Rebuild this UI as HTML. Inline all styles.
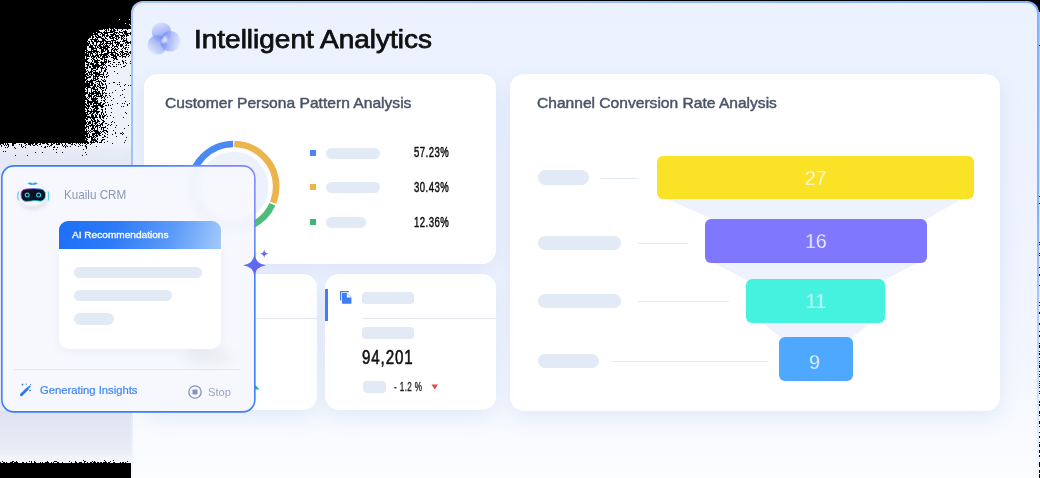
<!DOCTYPE html>
<html><head><meta charset="utf-8">
<style>
*{margin:0;padding:0;box-sizing:border-box}
html,body{width:1040px;height:478px;overflow:hidden;background:#000}
body{position:relative;font-family:"Liberation Sans",sans-serif}
.abs{position:absolute}
.sh1{left:84px;top:28.5px;width:48px;height:116px;border-top-left-radius:20px;background:linear-gradient(90deg,#626670 0%,#6a6e78 35%,#8a8e98 70%,#b9bdc8 100%)}
.sh1b{left:103px;top:60px;width:29px;height:84px;border-top-left-radius:16px;background:linear-gradient(90deg,#c4c8d2 0%,#dfe3ec 40%,#e6e9f2 100%)}
.sh2{left:0;top:143px;width:132px;height:270px;background:#e6e9f5}
.sh3{left:0;top:410px;width:132px;height:53px;background:linear-gradient(180deg,#dfe3f0 0%,#e3e7f2 75%,#f4f7fb 100%)}
.panelb{left:131px;top:1px;width:908px;height:477px;border-radius:12px 12px 0 0;background:linear-gradient(180deg,rgba(246,249,254,0) 0%,rgba(246,249,254,0) 45%,rgba(246,249,254,.45) 72%,#f6f9fe 100%),linear-gradient(90deg,#a6c4f8 0%,#9cbdf8 50%,#88b2f7 100%)}
.panel{left:133px;top:3px;width:904px;height:475px;border-radius:10px 10px 0 0;
  background:linear-gradient(180deg,#ebf2fe 0%,#eef3fe 50%,#f2f6fe 75%,#f8fafe 90%,#fcfdff 100%)}
.card{background:#fff;border-radius:14px;box-shadow:0 7px 20px rgba(95,140,210,.13)}
.t{white-space:nowrap;transform-origin:0 0;line-height:1}
.pill{position:absolute;background:#e2eaf5;border-radius:8px}
.hl{position:absolute;height:1px;background:#e5ebf4}
.bar{position:absolute;border-radius:6px;color:#fff;font-size:18px;display:flex;align-items:center;justify-content:center}
</style></head><body>
<svg class="abs" style="left:0;top:0" width="132" height="478" viewBox="0 0 132 478">
<defs>
<filter id="dith" x="0" y="0" width="132" height="478" filterUnits="userSpaceOnUse" color-interpolation-filters="sRGB">
<feTurbulence type="turbulence" baseFrequency="0.9" numOctaves="2" seed="7" result="n"/>
<feColorMatrix in="n" type="matrix" values="0 0 0 0 0  0 0 0 0 0  0 0 0 0 0  1.2 0 0 0 0" result="na"/>
<feComposite in="SourceAlpha" in2="na" operator="arithmetic" k1="0" k2="1" k3="-1" k4="0.5" result="d"/>
<feComponentTransfer in="d" result="t"><feFuncA type="discrete" tableValues="0 1"/></feComponentTransfer>
<feColorMatrix in="SourceGraphic" type="matrix" values="1 0 0 0 0  0 1 0 0 0  0 0 1 0 0  0 0 0 0 1" result="op"/>
<feComposite in="op" in2="t" operator="in"/>
</filter>
<filter id="sb" x="-50%" y="-50%" width="200%" height="200%"><feGaussianBlur stdDeviation="5"/></filter>
<linearGradient id="bandg" x1="0" y1="0" x2="0" y2="1"><stop offset="0" stop-color="#eef1f9" stop-opacity=".3"/><stop offset="0.25" stop-color="#e8ebf6" stop-opacity=".6"/><stop offset="1" stop-color="#e4e7f3" stop-opacity="1"/></linearGradient>
<linearGradient id="botg" x1="0" y1="0" x2="0" y2="1"><stop offset="0" stop-color="#dfe3f0" stop-opacity="1"/><stop offset="0.75" stop-color="#e9ecf5" stop-opacity="1"/><stop offset="0.9" stop-color="#f2f4fa" stop-opacity=".9"/><stop offset="1" stop-color="#f2f4fa" stop-opacity=".3"/></linearGradient>
</defs>
<g filter="url(#dith)">
<rect x="85" y="28.8" width="80" height="130" rx="22" fill="#eef1f9" fill-opacity=".23"/>
<g filter="url(#sb)" opacity="1">
<rect x="106" y="62" width="40" height="100" rx="12" fill="#eef1f9" fill-opacity=".5"/>
<rect x="118" y="26" width="30" height="60" rx="6" fill="#eef1f9" fill-opacity=".1"/>
</g>
<rect x="0" y="143" width="132" height="24" fill="url(#bandg)"/>
<rect x="0" y="160" width="132" height="252" fill="#e6e9f5"/>
<rect x="0" y="411" width="132" height="52" fill="url(#botg)"/>
</g>
</svg>
<div class="abs panelb"></div>
<svg class="abs" style="left:1039px;top:0" width="1" height="478" viewBox="0 0 1 478">
<defs>
<filter id="dith2" x="0" y="0" width="1" height="478" filterUnits="userSpaceOnUse" color-interpolation-filters="sRGB">
<feTurbulence type="turbulence" baseFrequency="0.9" numOctaves="2" seed="11" result="n"/>
<feColorMatrix in="n" type="matrix" values="0 0 0 0 0  0 0 0 0 0  0 0 0 0 0  1.2 0 0 0 0" result="na"/>
<feComposite in="SourceAlpha" in2="na" operator="arithmetic" k1="0" k2="1" k3="-1" k4="0.5" result="d"/>
<feComponentTransfer in="d" result="t"><feFuncA type="discrete" tableValues="0 1"/></feComponentTransfer>
<feColorMatrix in="SourceGraphic" type="matrix" values="1 0 0 0 0  0 1 0 0 0  0 0 1 0 0  0 0 0 0 1" result="op"/>
<feComposite in="op" in2="t" operator="in"/>
</filter>
<linearGradient id="colg" x1="0" y1="0" x2="0" y2="1"><stop offset="0" stop-color="#a9c8f8" stop-opacity=".75"/><stop offset=".45" stop-color="#dfe9fb" stop-opacity=".55"/><stop offset="1" stop-color="#f4f7fd" stop-opacity=".2"/></linearGradient>
</defs>
<rect x="0" y="12" width="1" height="466" fill="url(#colg)" filter="url(#dith2)"/>
</svg>

<div class="abs panel"></div>

<!-- logo -->
<svg class="abs" style="left:145px;top:20px" width="40" height="40" viewBox="0 0 40 40">
<defs>
<linearGradient id="lg1" x1="0.2" y1="0" x2="0.6" y2="1"><stop offset="0" stop-color="#dfe5fc"/><stop offset="1" stop-color="#7088f1"/></linearGradient>
<linearGradient id="lg2" x1="0.9" y1="0.1" x2="0.2" y2="0.9"><stop offset="0" stop-color="#6d85f0"/><stop offset="1" stop-color="#dfe6fc"/></linearGradient>
<linearGradient id="lg3" x1="0" y1="0.4" x2="1" y2="0.6"><stop offset="0" stop-color="#6881f0"/><stop offset="1" stop-color="#e3e9fd"/></linearGradient>
<filter id="lbl"><feGaussianBlur stdDeviation="0.7"/></filter><filter id="lbl2" x="-50%" y="-50%" width="200%" height="200%"><feGaussianBlur stdDeviation="0.9"/></filter>
</defs>
<g filter="url(#lbl)">
<circle cx="16.5" cy="12" r="9.8" fill="url(#lg1)" opacity=".85"/>
<circle cx="12.3" cy="25" r="9.8" fill="url(#lg2)" opacity=".85"/>
<circle cx="25.4" cy="21.2" r="10.2" fill="url(#lg3)" opacity=".85"/>
</g>
<path d="M20.3 15.6 Q17.6 18 15.6 22.8 Q19.5 22.6 22.6 21.4 Q22.3 17.6 20.3 15.6Z" fill="#e2e8fc" filter="url(#lbl2)"/>
</svg>
<div id="title" class="abs t" style="left:194px;top:28px;font-size:24.85px;color:#111;-webkit-text-stroke:.75px #111;transform:scaleX(1.126)">Intelligent Analytics</div>

<!-- persona card -->
<div class="abs card" style="left:144px;top:74px;width:352px;height:190px"></div>
<div id="h1" class="abs t" style="left:165px;top:96px;font-size:14.8px;color:#4a5366;-webkit-text-stroke:.45px #4a5366;transform:scaleX(1.055)">Customer Persona Pattern Analysis</div>
<svg class="abs" style="left:183px;top:137px" width="100" height="100" viewBox="0 0 100 100">
<circle cx="50.5" cy="49.7" r="35" fill="#ecf1fb"/>
<g fill="none" stroke-width="6.6" transform="rotate(-90 50.5 49.7)">
<circle cx="50.5" cy="49.7" r="42.7" stroke="#ecb44c" stroke-dasharray="82.5 1000" stroke-dashoffset="-0.85"/>
<circle cx="50.5" cy="49.7" r="42.7" stroke="#4fbc7d" stroke-dasharray="31.5 1000" stroke-dashoffset="-85.05"/>
<circle cx="50.5" cy="49.7" r="42.7" stroke="#4a8af4" stroke-dasharray="149.2 1000" stroke-dashoffset="-118.25"/>
</g>
</svg>
<div class="abs" style="left:310px;top:150px;width:6px;height:6px;background:#4a85f0"></div>
<div class="abs" style="left:310px;top:184px;width:6px;height:6px;background:#ecb547"></div>
<div class="abs" style="left:310px;top:219px;width:6px;height:6px;background:#3db574"></div>
<div class="pill" style="left:326px;top:148px;width:54px;height:11px"></div>
<div class="pill" style="left:326px;top:182px;width:54px;height:11px"></div>
<div class="pill" style="left:326px;top:217px;width:40px;height:11px"></div>
<div id="p1" class="abs t" style="left:414px;top:145px;font-size:14.7px;color:#111;-webkit-text-stroke:.5px #111;letter-spacing:.7px;transform:scaleX(.65)">57.23%</div>
<div id="p2" class="abs t" style="left:414px;top:180px;font-size:14.7px;color:#111;-webkit-text-stroke:.5px #111;letter-spacing:.7px;transform:scaleX(.65)">30.43%</div>
<div id="p3" class="abs t" style="left:414px;top:215px;font-size:14.7px;color:#111;-webkit-text-stroke:.5px #111;letter-spacing:.7px;transform:scaleX(.65)">12.36%</div>

<!-- channel card -->
<div class="abs card" style="left:510px;top:74px;width:490px;height:337px"></div>
<div id="h2" class="abs t" style="left:536.5px;top:96px;font-size:14.8px;color:#4a5366;-webkit-text-stroke:.45px #4a5366;transform:scaleX(1.053)">Channel Conversion Rate Analysis</div>
<svg class="abs" style="left:510px;top:74px" width="490" height="337" viewBox="510 74 490 337">
<polygon points="667,199 962,199 925,220 714,220" fill="#eef2fc"/>
<polygon points="714,263 917,263 884,280 746,280" fill="#eef2fc"/>
<polygon points="762,322 872,322 849,340 783,340" fill="#eef2fc"/>
</svg>
<div class="bar" style="left:657px;top:156px;width:317px;height:43.4px;background:#fae227"></div><div id="n1" class="abs t" style="left:805px;top:169px;font-size:19.5px;color:#fff;-webkit-text-stroke:.35px #fae227">27</div>
<div class="bar" style="left:704.5px;top:219px;width:222.5px;height:44px;background:#7f78fe"></div><div id="n2" class="abs t" style="left:805px;top:232px;font-size:19.5px;color:#fff;-webkit-text-stroke:.35px #7f78fe">16</div>
<div class="bar" style="left:746px;top:279.4px;width:139.4px;height:43.4px;background:#44f2df"></div><div id="n3" class="abs t" style="left:805.5px;top:292px;font-size:19.5px;color:#fff;-webkit-text-stroke:.35px #44f2df">11</div>
<div class="bar" style="left:778.5px;top:337.3px;width:74.3px;height:43.9px;background:#4da8fe"></div><div id="n4" class="abs t" style="left:809px;top:353px;font-size:19.5px;color:#fff;-webkit-text-stroke:.35px #4da8fe">9</div>
<div class="pill" style="left:538px;top:170px;width:51px;height:15px"></div>
<div class="pill" style="left:538px;top:236px;width:83px;height:14px"></div>
<div class="pill" style="left:538px;top:294px;width:83px;height:14px"></div>
<div class="pill" style="left:538px;top:354px;width:61px;height:14px"></div>
<div class="hl" style="left:600px;top:178px;width:38px"></div>
<div class="hl" style="left:638px;top:243px;width:50px"></div>
<div class="hl" style="left:638px;top:301px;width:91px"></div>
<div class="hl" style="left:611px;top:361px;width:157px"></div>

<!-- small cards -->
<div class="abs card" style="left:144px;top:274px;width:173px;height:136px"></div>
<div class="abs" style="left:255px;top:318px;width:62px;height:1px;background:#e3e6ec"></div>
<div class="abs card" style="left:325px;top:274px;width:171px;height:136px"></div>
<div class="abs" style="left:325px;top:289px;width:3px;height:32px;background:#3f7ff2"></div>
<div class="abs" style="left:362px;top:318px;width:134px;height:1px;background:#e3e6ec"></div>
<div class="pill" style="left:362.4px;top:292px;width:51.6px;height:11.8px;border-radius:4px"></div>
<div class="pill" style="left:362.4px;top:326.6px;width:51.6px;height:12px;border-radius:4px"></div>
<div class="pill" style="left:362.5px;top:381px;width:23.6px;height:11.7px;border-radius:4px"></div>
<div id="big" class="abs t" style="left:361.9px;top:347px;font-size:20.9px;color:#111;-webkit-text-stroke:.6px #111;letter-spacing:1.2px;transform:scaleX(.725)">94,201</div>
<div id="chg" class="abs t" style="left:393.7px;top:382px;font-size:11.9px;color:#222;-webkit-text-stroke:.35px #222;letter-spacing:.6px;transform:scaleX(.68)">- 1.2 %</div>
<svg class="abs" style="left:431px;top:384px" width="8" height="6"><polygon points="0.5,0.5 7,0.5 3.75,5.5" fill="#e24b4b"/></svg>

<svg class="abs" style="left:338px;top:289px" width="16" height="17" viewBox="0 0 16 17">
<path d="M2.6 11.4 V2.6 H10.8" fill="none" stroke="#3f7df0" stroke-width="1.3"/>
<path d="M4 4 H8.8 L13.4 8.6 V14.8 H4Z" fill="#3f7df0"/>
<path d="M8.8 4.4 V8.4 H13" fill="#fff"/>
</svg>
<svg class="abs" style="left:254px;top:384px" width="8" height="7"><polygon points="1,0.8 5.5,5.5 1,5.5" fill="#2bb673"/></svg>
<!-- left card -->
<svg class="abs" style="left:0;top:164px" width="258" height="250" viewBox="0 0 258 250">
<defs><clipPath id="lcclip"><rect x="2.7" y="2.7" width="251.3" height="244.3" rx="11"/></clipPath><filter id="blob2" x="-50%" y="-50%" width="200%" height="200%"><feGaussianBlur stdDeviation="3"/></filter><filter id="blob" x="-50%" y="-100%" width="200%" height="300%"><feGaussianBlur stdDeviation="5"/></filter><radialGradient id="lcb" gradientUnits="userSpaceOnUse" cx="255" cy="2" r="120"><stop offset="0" stop-color="#8a86f6"/><stop offset="0.45" stop-color="#6f8af7"/><stop offset="1" stop-color="#3a7ef6"/></radialGradient></defs>
<rect x="1.85" y="1.85" width="253" height="246" rx="12" fill="#f6f8fd" stroke="url(#lcb)" stroke-width="1.55"/>
<ellipse cx="208" cy="193" rx="26" ry="8" fill="#eceef3" filter="url(#blob)"/>
<g clip-path="url(#lcclip)"><circle cx="233.5" cy="22.7" r="40" fill="none" stroke="#e8edf7" stroke-width="9" filter="url(#blob2)" opacity=".45"/></g>
</svg>
<!-- robot -->
<svg class="abs" style="left:10px;top:175px" width="48" height="40" viewBox="-4 -3 48 40">
<defs>
<radialGradient id="rh" cx="0.45" cy="0.3" r="0.75"><stop offset="0" stop-color="#ffffff"/><stop offset="0.75" stop-color="#f4f6fb"/><stop offset="1" stop-color="#dde2ee"/></radialGradient>
<linearGradient id="rv" x1="0" y1="0" x2="1" y2="0.6"><stop offset="0" stop-color="#f23fd6"/><stop offset="0.45" stop-color="#5a7cf0"/><stop offset="0.7" stop-color="#2fdcf2"/><stop offset="1" stop-color="#2fe6f0"/></linearGradient>
<filter id="rb" x="-30%" y="-30%" width="160%" height="160%"><feGaussianBlur stdDeviation="2"/></filter>
</defs>
<ellipse cx="19.5" cy="19.5" rx="15" ry="12.5" fill="#c8cce6" opacity=".45" filter="url(#rb)"/>
<ellipse cx="19.25" cy="18.1" rx="14.25" ry="11.75" fill="url(#rh)"/>
<path d="M13.5 5.2 Q16 3.6 18.6 5.4 Q21.2 3.6 23.8 5.2 Q21 7.4 18.6 6.8 Q16 7.4 13.5 5.2Z" fill="#2ea4f4"/>
<path d="M7 16.5 Q6.8 11.6 12 11 Q19.2 10.1 26.5 11 Q31.6 11.6 31.6 16.8 Q31.6 22.6 26.5 23.2 Q22 22.4 19.2 22.8 Q16 23.4 12 23.4 Q7 23 7 16.5Z" fill="#0b1422" stroke="url(#rv)" stroke-width="0.9"/>
<circle cx="13.2" cy="17.1" r="1.95" fill="none" stroke="#33d2ee" stroke-width="1.1"/>
<circle cx="24.6" cy="17.1" r="1.95" fill="none" stroke="#33d2ee" stroke-width="1.1"/>
<path d="M4.3 13.5 Q3.2 18 4.3 22.5" stroke="#4fcbf5" stroke-width="1" fill="none"/>
<path d="M34.2 13.5 Q35.3 18 34.2 22.5" stroke="#4fcbf5" stroke-width="1" fill="none"/>
</svg>
<div id="kcrm" class="abs t" style="left:64px;top:189px;font-size:12.1px;color:#8a97b8;transform:scaleX(.964)">Kuailu CRM</div>
<div class="abs" style="left:59px;top:248px;width:162px;height:101px;background:#fff;border-radius:0 0 10px 10px;box-shadow:0 2px 8px rgba(150,165,200,.12)"></div>
<div class="abs" style="left:59px;top:220.5px;width:162px;height:28px;border-radius:9px 9px 0 0;background:linear-gradient(105deg,#1c6ff7 0%,#2f7bf7 35%,#5e9bf9 70%,#a3cafc 100%)"></div>
<div id="airec" class="abs t" style="left:72px;top:231px;font-size:9.3px;color:#fff;-webkit-text-stroke:.3px #fff;transform:scaleX(1.085)">AI Recommendations</div>
<div class="pill" style="left:74px;top:267px;width:128px;height:11px;border-radius:6px"></div>
<div class="pill" style="left:74px;top:290px;width:98px;height:11px;border-radius:6px"></div>
<div class="pill" style="left:74px;top:313px;width:40px;height:12px;border-radius:6px"></div>
<div class="abs" style="left:14px;top:369px;width:226px;height:1px;background:#e3e8f1"></div>
<svg class="abs" style="left:18px;top:382px" width="14" height="15" viewBox="0 0 14 15">
<path d="M3.4 12.8 L9.2 7" stroke="#2f76f2" stroke-width="2.9" stroke-linecap="round"/>
<path d="M10 6.2 L11.8 4.4" stroke="#3b7cf0" stroke-width="1.8" stroke-linecap="round"/>
<path d="M4.5 1.6 V3.6 M3.5 2.6 H5.5" stroke="#3b7cf0" stroke-width=".8"/>
<path d="M12 7.6 V9.4 M11.1 8.5 H12.9" stroke="#3b7cf0" stroke-width=".8"/>
<circle cx="8.2" cy="2.2" r=".6" fill="#3b7cf0"/><circle cx="12.6" cy="2.6" r=".6" fill="#3b7cf0"/>
</svg>
<div id="gen" class="abs t" style="left:39.6px;top:385px;font-size:10.5px;color:#3f86f5;-webkit-text-stroke:.2px #3f86f5;transform:scaleX(1.07)">Generating Insights</div>
<svg class="abs" style="left:187px;top:384px" width="16" height="16" viewBox="0 0 16 16">
<circle cx="8" cy="8" r="6.2" fill="none" stroke="#8793b6" stroke-width="1.3"/>
<rect x="5.5" y="5.5" width="5" height="5" rx="0.8" fill="#8793b6"/>
</svg>
<div id="stop" class="abs t" style="left:207.6px;top:388px;font-size:10.2px;color:#98a3c0;transform:scaleX(1.09)">Stop</div>
<!-- stars -->
<svg class="abs" style="left:240px;top:246px" width="32" height="34" viewBox="0 0 32 34">
<defs><linearGradient id="st" x1="0" y1="0" x2="1" y2="1"><stop offset="0" stop-color="#4f78f6"/><stop offset="1" stop-color="#6e5af0"/></linearGradient></defs>
<path d="M14.5 8 Q15.5 18 26 19.2 Q15.5 20.4 14.5 30.5 Q13.5 20.4 3 19.2 Q13.5 18 14.5 8Z" fill="url(#st)"/>
<path d="M24.2 3.5 Q24.6 7.3 28.3 7.7 Q24.6 8.1 24.2 11.9 Q23.8 8.1 20.1 7.7 Q23.8 7.3 24.2 3.5Z" fill="#5f6ef4"/>
</svg>
</body></html>
